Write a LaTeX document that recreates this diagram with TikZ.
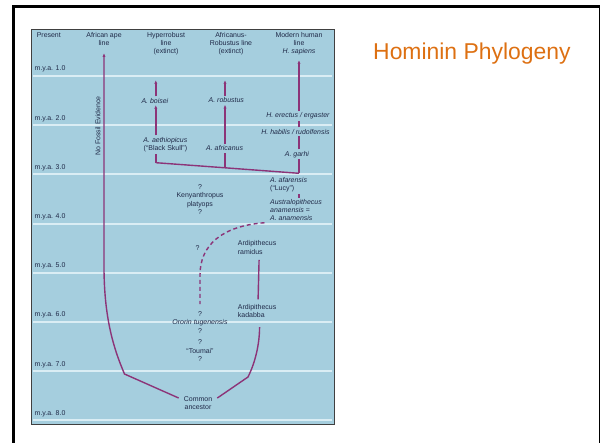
\documentclass[tikz,border=0pt]{standalone}
\usepackage{fontspec}
\setmainfont{Liberation Sans}
\usetikzlibrary{arrows.meta}
\definecolor{panelblue}{RGB}{165,206,222}
\definecolor{myaline}{RGB}{218,237,244}
\definecolor{lineage}{RGB}{140,52,120}
\definecolor{labelink}{RGB}{32,42,72}
\definecolor{titleorange}{RGB}{221,112,18}

\begin{document}
\begin{tikzpicture}[x=1bp,y=-1bp,
    lbl/.style={font=\fontsize{7}{8.3}\selectfont,text=labelink,inner sep=1.5,align=center},
    lin/.style={draw=lineage,line width=1.4},
    arr/.style={lin,-{Latex[length=4,width=3.2]}},
    gap/.style={lin,dash pattern=on 4 off 3}]
  \useasboundingbox (0,0) rectangle (602,443);
  % slide frame and title
  \draw[line width=2.8] (13.5,443) -- (13.5,6.2) -- (599.8,6.2);
  \draw[line width=1.2] (599.8,6.2) -- (599.8,443);
  \node[font=\fontsize{23}{27}\selectfont,text=titleorange,anchor=base west,inner sep=0]
    (title) at (373,60) {Hominin Phylogeny};

  % chart panel with time lines
  \draw[fill=panelblue,draw=black!75,line width=0.9] (31,29) rectangle (334,424.3);
  \foreach \k in {1,...,8}{
    \pgfmathsetmacro\yy{76+(\k-1)*49.2}
    \draw[myaline,line width=2] (33,\yy) -- (332,\yy);
    \node[lbl,anchor=west] (mya\k) at (33,\yy-6.8) {m.y.a. \k.0};
  }

  % column heads
  \node[lbl] (present) at (48.8,35) {Present};
  \node[lbl] (apehd) at (104,39.2) {African ape\\line};
  \node[lbl] (hyphd) at (166,43.5) {Hyperrobust\\line\\(extinct)};
  \node[lbl] (robhd) at (231,43.5) {Africanus-\\Robustus line\\(extinct)};
  \node[lbl] (homhd) at (299,43.5) {Modern human\\line\\\textit{H. sapiens}};

  % branch points
  \coordinate (jh) at (155.8,162.7);
  \coordinate (ja) at (225,167.8);
  \coordinate (jm) at (299,173.3);
  \coordinate (ext) at (0,80);
  \coordinate (apetop) at (104,53);
  \coordinate (homtop) at (299,60);
  \coordinate (bend) at (124.5,374);
  \coordinate (elbow) at (248,377);

  % species
  \node[lbl] (boi) at (155,100.7) {\textit{A. boisei}};
  \node[lbl] (aet) at (165.4,144.5) {\textit{A. aethiopicus}\\(“Black Skull”)};
  \node[lbl] (rob) at (226.3,100.3) {\textit{A. robustus}};
  \node[lbl] (afr) at (224.6,148.3) {\textit{A. africanus}};
  \node[lbl] (ere) at (298,116) {\textit{H. erectus / ergaster}};
  \node[lbl] (hab) at (295.5,131.7) {\textit{H. habilis / rudolfensis}};
  \node[lbl] (gar) at (297,154.3) {\textit{A. garhi}};
  \node[lbl,anchor=west,align=left] (afa) at (268.5,185)
    {\textit{A. afarensis}\\(“Lucy”)};
  \node[lbl,anchor=west,align=left] (ana) at (268.5,210.2)
    {\textit{Australopithecus}\\\textit{anamensis} =\\\textit{A. anamensis}};
  \node[lbl] (ken) at (200,199.5) {?\\Kenyanthropus\\platyops\\?};
  \node[lbl] (qm) at (197.5,248.3) {?};
  \node[lbl,anchor=west,align=left] (ram) at (236.2,247.5) {Ardipithecus\\ramidus};
  \node[lbl,anchor=west,align=left] (kad) at (236.2,310.8) {Ardipithecus\\kadabba};
  \node[lbl] (oro) at (200,322.5) {?\\\textit{Ororin tugenensis}\\?};
  \node[lbl] (tou) at (200,350.8) {?\\“Toumai”\\?};
  \node[lbl,inner xsep=5] (cmn) at (198,403.2) {Common\\ancestor};
  \node[lbl,rotate=90] (nofos) at (98,126) {No Fossil Evidence};

  % African ape line
  \draw[arr] (cmn.165) -- (bend) .. controls (112,345) and (104.5,315) .. (104,270) -- (apetop);
  % hyperrobust line
  \draw[lin] (jh) -- (aet.south -| jh);
  \draw[arr] (aet.north -| jh) -- (boi.south -| jh);
  \draw[arr] (boi.north -| jh) -- (jh |- ext);
  % africanus-robustus line
  \draw[lin] (ja) -- (afr.south -| ja);
  \draw[arr] (afr.north -| ja) -- (rob.south -| ja);
  \draw[arr] (rob.north -| ja) -- (ja |- ext);
  \draw[lin] (jh) -- (ja) -- (jm);
  % modern human line
  \draw[lin] (jm) -- (gar.south -| jm);
  \draw[lin] (gar.north -| jm) -- (hab.south -| jm);
  \draw[lin] (hab.north -| jm) -- (ere.south -| jm);
  \draw[arr] (ere.north -| jm) -- (homtop);
  \draw[lin] (afa.south -| jm) -- (ana.north -| jm);
  % uncertain link
  \draw[gap] ([xshift=-4]ana.south west) .. controls (222,226) and (200,245) .. (200,275)
    -- ([yshift=6]oro.north);
  % ardipithecus line
  \draw[lin] ([xshift=2,yshift=-4]ram.south) -- ([xshift=1,yshift=3]kad.north);
  \draw[lin] (cmn.15) -- (elbow) .. controls (255,363) and (259.5,345) .. ([xshift=2.5,yshift=-8]kad.south);
\end{tikzpicture}
\end{document}
